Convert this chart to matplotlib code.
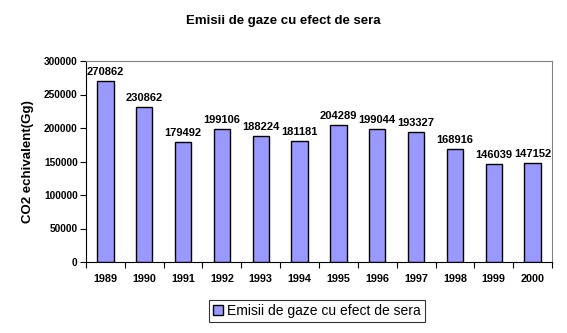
import matplotlib
matplotlib.use("Agg")
import matplotlib.pyplot as plt
from matplotlib.patches import Patch

years = ["1989", "1990", "1991", "1992", "1993", "1994", "1995", "1996", "1997", "1998", "1999", "2000"]
values = [270862, 230862, 179492, 199106, 188224, 181181, 204289, 199044, 193327, 168916, 146039, 147152]
series_name = "Emisii de gaze cu efect de sera"
y_ticks = [0, 50000, 100000, 150000, 200000, 250000, 300000]

plt.rcParams['font.family'] = ['Liberation Sans', 'DejaVu Sans']

fig = plt.figure(figsize=(5.67, 3.33), dpi=100)
ax = fig.add_axes([86/567, 1 - 262/333, (552-86)/567, (262-61)/333])

x = list(range(len(years)))
bars = ax.bar(x, values, width=0.42, color="#9999FF", edgecolor="black", linewidth=1.0)

ax.set_xlim(-0.5, len(years) - 0.5)
ax.set_ylim(0, 300000)
ax.set_yticks(y_ticks)
ax.set_yticklabels([str(t) for t in y_ticks], fontsize=7.3, fontweight='bold')
ax.set_xticks(x)
ax.set_xticklabels(years, fontsize=7.8, fontweight='bold')
ax.set_xticks([i - 0.5 for i in range(len(years) + 1)], minor=True)
ax.tick_params(axis='x', which='major', length=0, pad=9)
ax.tick_params(axis='x', which='minor', length=4, direction='out', width=0.8)
ax.tick_params(axis='y', length=4, direction='out', width=0.8, pad=2)

for side in ['top', 'right']:
    ax.spines[side].set_color('#808080')
for side in ['left', 'bottom']:
    ax.spines[side].set_color('black')

for xi, v in zip(x, values):
    ax.text(xi, v + 6000, str(v), ha='center', va='bottom', fontsize=8, fontweight='bold')

ax.set_ylabel("CO2 echivalent(Gg)", fontsize=9.5, fontweight='bold', labelpad=7)

fig.text(283/567, 1 - 21/333, series_name, ha='center', va='center', fontsize=9.5, fontweight='bold')

leg = fig.legend(handles=[Patch(facecolor="#9999FF", edgecolor="black", label=series_name)],
                 loc='center', bbox_to_anchor=(317/567, 1 - 311/333), fontsize=10,
                 frameon=True, fancybox=False, edgecolor='black', handlelength=0.7,
                 handleheight=0.7, handletextpad=0.3, borderpad=0.3)
leg.get_frame().set_linewidth(0.8)

fig.savefig("out.png", dpi=100)
